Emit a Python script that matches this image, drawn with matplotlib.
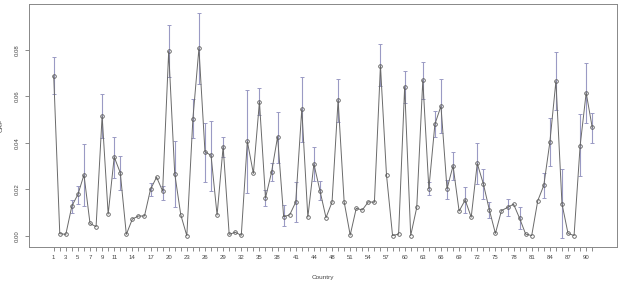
import matplotlib
matplotlib.use("Agg")
import matplotlib.pyplot as plt
import numpy as np

# country numbers (one number between 44 and 48 has no data)
countries = list(range(1, 46)) + list(range(47, 92))

crp = [0.0688, 0.0009, 0.0006, 0.0128, 0.0178, 0.0262, 0.0053, 0.0039, 0.0515, 0.0093,
       0.0339, 0.0271, 0.0006, 0.0072, 0.0085, 0.0085, 0.0200, 0.0252, 0.0192, 0.0793,
       0.0267, 0.0090, 0.0000, 0.0503, 0.0806, 0.0361, 0.0346, 0.0089, 0.0383, 0.0006,
       0.0015, 0.0002, 0.0406, 0.0268, 0.0576, 0.0163, 0.0273, 0.0426, 0.0082, 0.0090,
       0.0145, 0.0545, 0.0080, 0.0309, 0.0194, 0.0078, 0.0145, 0.0584, 0.0146, 0.0003,
       0.0118, 0.0111, 0.0146, 0.0144, 0.0731, 0.0261, 0.0001, 0.0007, 0.0641, 0.0001,
       0.0122, 0.0670, 0.0202, 0.0480, 0.0558, 0.0202, 0.0301, 0.0106, 0.0154, 0.0080,
       0.0311, 0.0224, 0.0111, 0.0010, 0.0108, 0.0122, 0.0136, 0.0075, 0.0007, 0.0001,
       0.0151, 0.0217, 0.0403, 0.0665, 0.0138, 0.0010, 0.0001, 0.0387, 0.0615, 0.0466]

# confidence limits, only where a bar is drawn (None = no bar)
upper = {1: 0.0767, 4: 0.0153, 5: 0.0214, 6: 0.0393, 9: 0.0608, 11: 0.0426, 12: 0.0343,
         17: 0.0228, 19: 0.0212, 20: 0.0905, 21: 0.0409, 24: 0.0587, 25: 0.0959, 26: 0.0486,
         27: 0.0493, 29: 0.0426, 33: 0.0627, 35: 0.0635, 36: 0.0197, 37: 0.0314, 38: 0.0533,
         39: 0.0132, 41: 0.0231, 42: 0.0684, 44: 0.0383, 45: 0.0235, 48: 0.0673, 55: 0.0823,
         59: 0.0708, 62: 0.0748, 63: 0.0230, 64: 0.0536, 65: 0.0674, 66: 0.0240, 67: 0.0359,
         69: 0.0208, 71: 0.0400, 72: 0.0287, 73: 0.0144, 76: 0.0158, 78: 0.0122, 82: 0.0268,
         83: 0.0505, 84: 0.0791, 85: 0.0286, 88: 0.0522, 89: 0.0744, 90: 0.0529}
lower = {1: 0.0608, 4: 0.0097, 5: 0.0136, 6: 0.0128, 9: 0.0419, 11: 0.0249, 12: 0.0197,
         17: 0.0172, 19: 0.0155, 20: 0.0684, 21: 0.0122, 24: 0.0422, 25: 0.0651, 26: 0.0232,
         27: 0.0194, 29: 0.0340, 33: 0.0182, 35: 0.0518, 36: 0.0129, 37: 0.0237, 38: 0.0311,
         39: 0.0042, 41: 0.0059, 42: 0.0404, 44: 0.0234, 45: 0.0152, 48: 0.0488, 55: 0.0644,
         59: 0.0569, 62: 0.0587, 63: 0.0175, 64: 0.0426, 65: 0.0440, 66: 0.0157, 67: 0.0240,
         69: 0.0096, 71: 0.0222, 72: 0.0158, 73: 0.0075, 76: 0.0085, 78: 0.0027, 82: 0.0163,
         83: 0.0300, 84: 0.0541, 85: -0.0011, 88: 0.0257, 89: 0.0486, 90: 0.0397}

shown_labels = [1, 3, 5, 7, 9, 11, 14, 17, 20, 23, 26, 29, 32, 35, 38, 41, 44,
                48, 51, 54, 57, 60, 63, 66, 69, 72, 75, 78, 81, 84, 87, 90]

plt.rcParams['font.family'] = ['Liberation Sans', 'DejaVu Sans']

pos = np.arange(1, len(crp) + 1)

fig = plt.figure(figsize=(6.27, 2.85), dpi=100)
ax = fig.add_axes([0.0463, 0.1344, 0.9378, 0.8516])

# error bars
bar_pos = sorted(upper.keys())
ax.vlines(bar_pos, [lower[p] for p in bar_pos], [upper[p] for p in bar_pos],
          color='#9a9ac4', lw=0.8, zorder=3)
ax.plot(bar_pos, [upper[p] for p in bar_pos], ls='none', marker='_', ms=3.2,
        mew=0.7, color='#9a9ac4', zorder=3)
ax.plot(bar_pos, [lower[p] for p in bar_pos], ls='none', marker='_', ms=3.2,
        mew=0.7, color='#9a9ac4', zorder=3)

# main line with open circles
ax.plot(pos, crp, color='#6a6a6a', lw=0.7, marker='o', ms=2.6, mfc='none',
        mec='#5a5a5a', mew=0.6, zorder=4)

ax.set_xlim(-3.08, 94.1)
ax.set_ylim(-0.0047, 0.0997)

label_pos = [countries.index(c) + 1 for c in shown_labels]
ax.set_xticks(pos, minor=True)
ax.set_xticks(label_pos)
ax.set_xticklabels([str(c) for c in shown_labels])
ax.tick_params(axis='x', which='both', length=3, width=0.6, color='#777777',
               labelsize=4.3, labelcolor='#444444', pad=3)

yt = [0.00, 0.02, 0.04, 0.06, 0.08]
ax.set_yticks(yt)
ax.set_yticklabels([f'{v:.2f}' for v in yt], rotation=90, va='center')
ax.tick_params(axis='y', length=3, width=0.6, color='#777777',
               labelsize=4.3, labelcolor='#444444', pad=3.5)

for s in ax.spines.values():
    s.set_color('#888888')
    s.set_linewidth(0.7)

ax.set_xlabel('Country', fontsize=4.6, color='#444444')
ax.xaxis.set_label_coords(0.5, -0.115)
ax.set_ylabel('CRP', fontsize=4.6, color='#444444')
ax.yaxis.set_label_coords(-0.043, 0.5)

fig.savefig('out.png', dpi=100)
